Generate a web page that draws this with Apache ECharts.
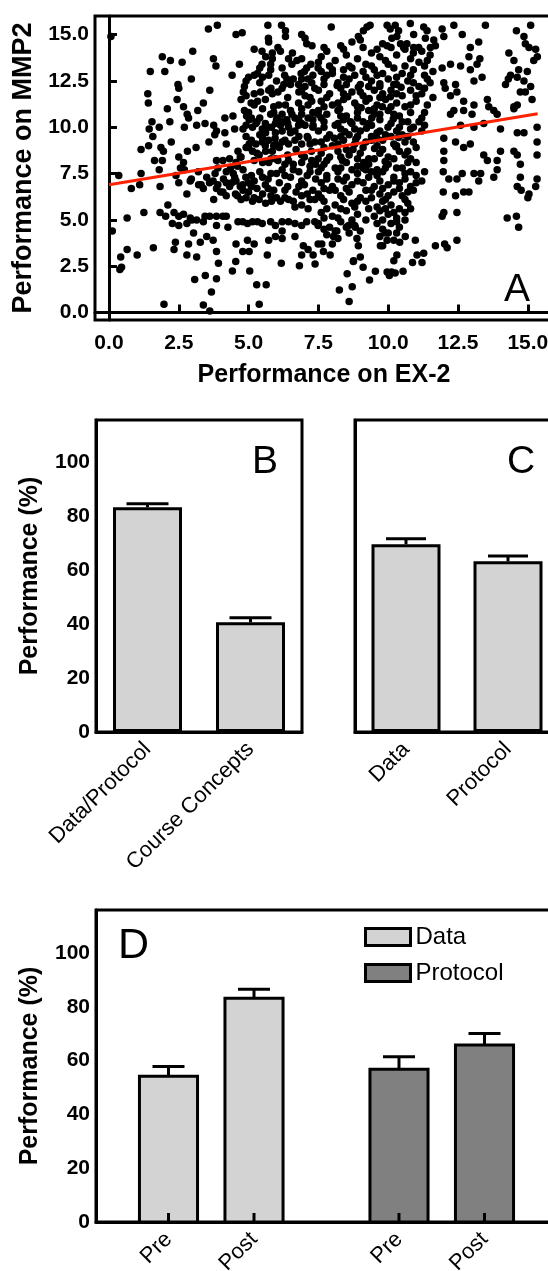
<!DOCTYPE html>
<html><head><meta charset="utf-8">
<script src="https://cdn.jsdelivr.net/npm/echarts@6/dist/echarts.min.js"></script>
<style>html,body{margin:0;padding:0;overflow:hidden;background:#fff;width:548px;height:1271px}#c{width:600px;height:1271px}</style>
</head><body><div id="c"></div><script>
// ---------- Panel A data (EX-2 vs MMP2) ----------
const scatterUpperLeft = [[0.07,14.9],[3.56,15.3],[3.88,15.5],[4.55,15.0],[4.77,15.1],[5.69,15.5],[6.18,15.5],
[1.91,13.8],[2.2,13.6],[2.62,13.5],[3.0,14.1],[3.74,13.7],[3.83,13.3],[1.48,13.0],[2.0,13.0],[2.95,12.6],[2.47,12.3],[2.5,12.1],[1.39,11.8],[1.41,11.3],[3.61,12.0],[2.44,11.5],[2.67,11.1],[2.09,11.0],[3.38,11.3],[3.18,10.9],[2.8,10.7],[2.85,10.5],
[1.54,10.3],[1.44,9.9],[1.8,10.0],[2.18,10.3],[2.7,10.0],[3.14,10.1],[3.44,10.2],[3.75,10.1],[3.85,9.8],
[1.57,9.5],[1.86,8.9],[1.95,8.7],[2.23,9.2],[1.15,8.8],[1.42,9.0],[1.63,8.2],[1.91,8.2],[2.5,8.4],[2.81,8.7],[3.12,8.9],[2.67,8.1],
[3.58,9.2],[3.79,9.6],[4.15,9.7],[4.2,9.1],[4.15,10.5],[4.44,10.6],[4.5,9.9],[4.41,12.8],[4.67,13.4],
[5.2,14.2],[5.48,14.1],[5.61,13.8],[5.85,14.0],[6.05,14.3],[6.14,14.1],[5.72,14.6],[5.71,14.8],
[6.32,15.2],[6.32,14.9],[6.9,15.0],[7.02,14.8],[7.08,14.5],[7.27,14.4],
[5.48,13.4],[5.4,13.2],[5.32,12.9],[5.2,12.8],[5.0,12.7],[4.91,12.5],[4.85,12.2],[4.81,11.9],[4.91,11.7],[5.79,13.4],[5.79,13.1],
[6.43,13.7],[6.57,14.0],[6.73,13.6],[6.9,13.7],[6.55,13.4],[5.72,12.8],[6.29,12.8],[6.37,12.6],[6.26,12.3],[6.2,12.1],
[6.79,12.3],[6.9,12.0],[7.02,12.2],[7.13,12.6],[7.26,12.4],[7.37,12.1],[7.02,11.7],[6.88,12.9],[7.08,13.2],[7.23,13.4],[7.49,13.2],
[5.43,11.9],[5.72,12.0],[5.85,11.8],[5.09,11.3],[5.2,11.2],[5.32,11.4],[6.08,11.2],[6.32,11.2],[6.79,11.3],[7.13,11.2],[7.26,11.4],
[4.73,11.5],[4.85,10.9],[4.93,10.6],[5.02,10.4],[4.91,10.1],[5.14,10.0],[5.26,10.2],[5.4,10.5]];
const scatterMidLeft = [[5.79,10.7],[5.9,10.8],[6.03,10.5],[6.2,10.7],[5.96,10.2],[5.82,10.0],[6.14,10.1],[6.37,10.4],[6.55,10.7],[6.66,10.5],[6.9,10.7],[7.13,10.5],[7.31,10.1],[7.49,10.7],[7.02,10.1],[6.79,10.1],[6.43,10.0],[6.66,9.8],[6.2,9.8],[5.96,9.7],[5.61,9.7],[5.49,9.9],
[4.91,9.5],[5.02,9.1],[5.26,9.1],[5.49,9.2],[5.72,9.3],[5.96,9.1],[6.2,9.2],[6.43,9.1],[6.66,9.3],[6.9,9.1],[7.13,9.4],[7.37,9.2],[4.91,8.9],[4.62,8.7],[4.73,8.4],[5.14,8.7],[5.38,8.5],[5.61,8.7],
[3.85,8.2],[4.08,8.2],[4.32,8.3],[4.55,8.1],[5.96,8.3],[6.43,8.2],[6.9,8.5],[7.26,8.2],[7.49,8.3],[5.72,8.1],
[4.8,9.9],[5.1,10.5],[5.4,9.6],[5.7,10.0],[5.95,9.4],[6.2,10.3],[6.5,9.7],[6.8,10.4],[7.1,9.5],[7.3,10.0],[5.0,8.9],[5.3,8.6],[5.6,9.0],[5.85,8.7],[6.1,8.9],[6.4,8.5],[6.7,8.8],[7.0,8.4],[7.25,8.7],[4.7,8.4],[5.5,8.1],[6.05,8.2],[6.6,8.0],[7.2,7.9],[5.2,11.8],[5.6,11.5],[6.05,11.9],[6.4,11.6],[6.8,11.9],[7.2,11.6],[5.4,12.4],[5.8,12.1],[6.6,12.6],[7.0,13.0],[6.2,13.2],[5.85,13.7],
[4.9,7.3],[5.2,7.1],[5.5,7.3],[5.8,7.5],[6.3,7.4],[6.6,7.7],[6.9,7.1],[7.2,7.6],[5.1,6.8],[5.7,6.7],[6.3,6.6],[6.8,6.8],[7.1,6.4],[5.2,6.2],[5.8,6.3],[6.3,6.2],[4.8,6.6],
[5.2,8.2],[5.8,8.3],[6.3,8.0],[6.9,8.1],[7.4,8.0],[5.1,9.3],[5.5,9.4],[5.9,9.0],[6.3,9.3],[6.8,9.5],[7.2,9.1],[5.3,10.3],[5.6,10.2],[6.0,10.4],[6.4,10.2],[6.9,10.2],[7.3,10.4],[5.0,10.8],[5.5,11.0],[5.9,11.1],[6.5,10.9],[6.9,11.0],[7.3,10.8],[5.5,12.7],[6.0,12.5],[6.5,12.3],[6.9,12.6],[7.3,12.8]];
const scatterUpperRight = [[7.96,15.4],[9.0,14.7],[8.93,14.9],[9.24,15.4],[9.35,15.5],[9.11,15.2],[9.96,15.5],[10.07,15.3],[10.25,15.5],[10.37,15.2],[10.31,14.9],[10.13,14.8],[9.96,14.4],[10.44,14.5],[10.55,14.3],[10.67,14.5],[10.79,15.6],[10.91,15.0],[10.91,14.3],[11.09,14.3],[11.27,15.4],[11.39,15.2],[11.33,14.8],[11.63,14.7],[11.69,14.4],[11.51,14.3],[11.93,15.3],[11.99,14.9],[12.35,15.5],[12.65,15.0],
[13.48,15.5],[12.94,14.3],[13.24,14.6],[12.89,13.8],[13.28,13.7],[13.18,13.4],[12.94,13.1],[12.59,13.3],[12.23,13.4],[11.93,13.2],
[14.59,15.2],[14.86,14.9],[15.1,15.5],[14.91,14.5],[15.04,14.3],[15.28,14.2],[15.34,13.8],[15.21,13.6],[14.32,14.0],[14.5,13.6],[14.67,13.1],[14.38,12.8],[14.62,12.7],[14.86,12.5],[14.98,13.0],[15.1,12.2],[14.91,11.9],[15.15,11.5],[14.73,11.9],[14.62,11.2],[14.5,11.0],[14.2,12.3],[14.3,12.6],
[11.99,12.4],[12.04,12.1],[12.23,11.7],[12.41,12.3],[12.46,11.9],[12.7,11.4],[13.07,12.5],[13.36,12.7],[13.07,11.2],[13.55,11.5],[13.6,11.1],[13.78,10.9],[13.9,10.7],[14.5,11.1],[13.0,10.7],[12.7,10.9],[12.35,10.9],[12.23,10.7],[12.59,10.1],[13.07,10.0],[13.42,10.2],[14.02,9.9],[14.62,9.7],[14.86,9.7],[15.33,10.0],[15.33,9.2],[14.5,8.7],[14.62,8.5],[14.02,8.7],[13.42,8.5],[13.55,8.2],[12.94,9.1],[12.7,8.9],[11.99,8.7],[11.99,8.2],[11.99,9.4],[12.41,9.2],[14.73,8.0],[15.33,8.5],[13.9,8.2]];
const scatterCoreUpper = [[8.3,14.4],[8.7,14.6],[9.8,14.5],[10.6,14.2],[7.8,14.1],[9.4,14.0],[11.2,14.1],[11.5,13.9],
[7.6,13.8],[8.1,13.6],[8.5,13.9],[8.9,13.7],[9.2,13.4],[9.7,13.8],[9.9,13.6],[10.3,13.9],[10.8,13.7],[11.1,13.5],[11.4,13.6],[7.5,13.5],[7.9,13.3],[8.6,13.3],
[7.6,13.0],[8.0,12.9],[8.4,13.1],[8.8,12.8],[9.1,13.0],[9.5,13.1],[9.8,12.9],[10.2,13.2],[10.5,12.9],[10.9,13.1],[11.3,12.8],[11.6,13.0],
[7.7,12.6],[8.2,12.4],[8.6,12.6],[9.0,12.3],[9.4,12.5],[9.7,12.2],[10.0,12.6],[10.3,12.3],[10.7,12.5],[11.1,12.2],[11.5,12.4],
[7.5,12.0],[7.9,11.8],[8.3,12.1],[8.7,11.9],[9.1,11.7],[9.5,12.0],[9.8,11.8],[10.1,12.0],[10.5,11.7],[10.8,12.0],[11.2,11.8],[11.6,11.6],
[7.6,11.4],[8.0,11.2],[8.4,11.5],[8.8,11.3],[9.2,11.4],[9.6,11.2],[9.9,11.5],[10.3,11.3],[10.6,11.1],[11.0,11.4],[11.4,11.2],
[7.5,10.9],[7.8,10.7],[8.2,10.9],[8.5,10.6],[8.9,10.8],[9.3,10.9],[9.7,10.7],[10.0,10.9],[10.4,10.6],[10.8,10.8],[11.2,10.5],
[7.7,10.3],[8.1,10.1],[8.4,10.4],[8.7,10.2],[9.1,10.3],[9.4,10.1],[9.7,10.4],[10.1,10.2],[10.5,10.3],[10.9,10.0],[11.3,10.1],
[7.5,9.8],[7.9,9.6],[8.3,9.9],[8.6,9.6],[9.0,9.8],[9.4,9.5],[9.7,9.8],[9.9,9.6],[10.3,9.8],[10.7,9.5],
[7.6,9.2],[8.0,9.0],[8.4,9.3],[8.8,9.1],[9.2,9.2],[9.6,9.0],[9.8,9.3],[10.2,9.1],[10.6,9.2],[11.0,8.9],
[7.6,8.6],[7.9,8.4],[8.2,8.7],[8.6,8.5],[9.0,8.6],[9.3,8.3],[9.7,8.6],[10.0,8.4],[10.4,8.7],[10.8,8.3],
[7.7,8.0],[8.1,7.8],[8.5,8.1],[8.9,7.9],[9.3,8.0],[9.6,7.7],[10.0,8.0],[10.3,7.8],[10.7,8.1],
[8.17,12.25],[8.55,11.65],[8.93,12.15],[9.32,11.55],[9.7,12.35],[10.08,11.65],[10.46,12.15],[8.26,11.0],[8.65,10.3],[9.03,11.05],[9.41,10.5],[9.79,11.1],[10.18,10.45],[8.07,9.4],[8.45,9.75],[8.84,9.35],[9.22,9.95],[9.6,9.4],[9.99,10.0],[10.37,9.45],[8.36,8.2],[8.74,8.8],[9.12,8.1],[9.51,8.85],[9.89,8.15],[10.27,8.95]];
const scatterCoreExtra = [[7.7,14.3],[8.4,14.2],[9.1,14.3],[9.6,14.2],[10.1,14.3],[10.9,14.0],[8.0,13.1],[8.7,13.2],[9.4,13.3],[10.0,13.4],[10.6,13.3],[11.3,13.3],
[7.8,12.8],[8.4,12.7],[9.2,12.7],[9.6,12.8],[10.3,12.7],[10.8,12.8],[11.4,12.6],
[7.7,12.3],[8.5,12.3],[9.3,12.2],[10.2,12.3],[10.9,12.4],[11.3,12.1],[7.8,11.6],[8.4,11.8],[9.0,11.9],[9.7,11.6],[10.3,11.8],[11.0,11.7],
[7.7,11.1],[8.2,11.3],[8.9,11.1],[9.5,11.0],[10.1,11.1],[10.8,11.2],[11.3,10.8],
[7.6,10.5],[8.3,10.6],[8.9,10.5],[9.5,10.7],[10.2,10.7],[10.7,10.3],[11.1,10.3],
[7.7,10.0],[8.2,10.2],[8.8,9.9],[9.3,10.2],[9.6,9.7],[10.4,10.0],[10.8,9.9],[11.2,9.8],
[7.8,9.4],[8.3,9.5],[8.9,9.5],[9.4,9.3],[10.1,9.5],[10.5,9.6],[10.9,9.2],
[7.7,8.9],[8.2,9.1],[8.5,8.8],[9.1,8.9],[9.8,8.8],[10.3,9.0],[10.7,8.7],
[7.8,8.2],[8.3,8.4],[8.9,8.3],[9.5,8.3],[10.2,8.3],[10.6,8.5],[11.0,8.1],
[7.6,7.8],[8.3,7.8],[8.7,7.7],[9.1,7.8],[9.4,7.6],[9.9,7.8],[10.5,7.8],[10.8,7.6],
[7.8,7.2],[8.2,7.2],[8.9,7.1],[9.3,7.3],[10.2,7.1],[10.6,7.2],[11.0,7.0],
[7.7,6.7],[8.1,6.6],[8.5,6.7],[9.2,6.6],[9.8,6.7],[10.4,6.7],[10.7,6.5],
[7.6,6.2],[8.4,6.1],[8.9,6.0],[9.4,6.2],[10.0,6.3],[10.6,6.1],
[7.8,5.6],[8.3,5.6],[8.8,5.7],[9.3,5.6],[9.9,5.6],[10.2,5.4],[10.8,5.6],
[7.7,5.1],[8.2,5.1],[8.7,5.0],[9.2,5.0],[9.8,5.0],[10.3,4.9],[10.6,5.0],
[7.7,4.5],[8.1,4.4],[8.5,4.6],[9.0,4.4],[9.9,4.3],[10.3,4.3]];
const scatterLowerLeft = [[0.35,7.4],[0.12,4.4],[0.8,6.7],[1.1,6.9],[1.15,7.5],[1.8,7.7],[1.83,6.8],[2.5,7.0],[2.56,7.8],[0.65,5.1],[1.25,5.4],[1.83,5.4],[2.11,5.8],[2.03,5.2],
[2.79,6.4],[2.91,7.1],[3.21,6.9],[3.38,6.7],[3.73,7.1],[3.85,6.7],[4.08,6.5],[4.32,6.8],[4.55,7.1],[4.79,6.9],
[3.75,6.1],[4.2,6.3],[4.53,6.4],[4.73,6.1],[4.91,6.2],[5.14,6.0],[5.38,6.1],[5.61,5.9],[5.82,6.0],[6.14,6.0],[6.43,6.1],[6.66,5.7],[6.9,5.8],[7.13,5.6],[7.37,6.1],
[2.33,5.4],[2.5,5.2],[2.67,5.3],[2.91,5.1],[3.14,5.0],[3.44,5.2],[3.61,5.2],[3.85,5.2],[4.08,5.2],[4.2,5.2],[2.27,4.8],[2.5,4.7],[2.79,4.8],[2.97,5.0],[3.38,4.9],[3.85,4.7],[4.26,4.6],[4.62,4.9],[4.79,4.9],[4.96,4.8],[5.14,4.9],[5.32,4.9],[5.49,4.8],[5.79,4.9],[5.96,4.7],[6.2,4.9],[6.43,4.9],[6.66,4.8],[6.9,4.7],[7.08,4.9],[7.37,4.9],[7.49,4.7],
[3.03,4.3],[3.5,4.1],[3.73,3.9],[3.27,3.8],[2.85,3.7],[2.38,3.8],[2.33,3.4],[2.79,3.1],[3.14,3.0],[3.85,3.3],[4.55,3.7],[4.79,3.3],[5.02,3.3],[4.96,3.9],[5.2,3.7],[5.72,3.9],[5.96,4.1],[6.2,4.0],[6.66,4.1],[6.96,3.6],[7.13,3.4],[6.9,3.1],[7.31,3.1],[7.49,3.7],[5.67,3.1],[1.59,3.5],[1.01,3.1],[0.65,3.4],[0.42,3.0],[6.2,4.4],
[4.2,7.6],[4.5,7.3],[4.8,7.7],[5.1,7.4],[5.4,7.6],[5.7,7.2],[6.0,7.5],[6.2,7.7],[6.5,7.3],[6.8,7.6],[7.1,7.4],[7.4,7.2],[4.4,7.0],[4.7,6.8],[5.0,7.0],[5.3,6.7],[5.6,6.9],[5.9,6.6],[6.1,7.0],[6.4,6.8],[6.7,6.5],[7.0,6.9],[7.3,6.6],[4.6,6.3],[5.0,6.5],[5.5,6.4],[6.0,6.2],[6.6,6.0],[6.9,6.3],[7.2,6.1],
[3.8,7.5],[4.1,7.2],[4.35,7.8],[3.5,7.3],[3.9,6.9],[3.2,7.6],[2.95,7.2],[2.7,7.7],[2.4,7.4],[3.9,7.8],[4.2,7.0],[4.45,7.5],[4.6,7.9],[3.6,7.0],[4.0,6.5],[3.3,6.9]];
const scatterLowerRight = [[11.97,7.6],[12.17,7.2],[12.46,7.2],[12.65,7.5],[13.07,7.5],[13.31,7.5],[13.24,7.1],[12.7,6.5],[12.89,6.5],[11.97,6.5],[12.41,6.3],[11.99,5.4],[11.93,5.2],[12.46,5.4],[13.9,7.7],[13.78,7.3],[14.73,7.3],[14.62,6.8],[14.76,6.6],[15.04,6.4],[15.0,6.2],[15.33,7.2],[15.28,6.8],[14.26,5.1],[14.59,5.2],[14.67,4.6],[11.69,3.6],[12.02,3.7],[12.11,3.5],[12.46,3.9],[10.97,3.9],[11.03,3.1],[11.27,3.2],[9.0,3.0],[8.93,3.6],[8.88,4.0],[8.58,4.7],[8.82,4.6],[8.16,4.4],[8.04,4.1],[7.62,3.7],[7.68,3.3],[7.92,3.1],[10.31,3.1],[10.2,2.8],[10.61,4.1],[9.72,3.6],[9.96,3.9],[10.41,3.8],[8.76,2.8],
[7.5,7.6],[7.8,7.4],[8.2,7.6],[8.5,7.3],[8.9,7.5],[9.2,7.7],[9.6,7.4],[9.8,7.6],[10.2,7.3],[10.6,7.5],[11.0,7.4],[11.3,7.6],
[7.6,7.0],[8.0,6.8],[8.4,7.1],[8.7,6.9],[9.1,7.0],[9.5,6.8],[9.7,7.1],[10.0,6.9],[10.4,7.0],[10.8,6.8],[11.2,7.1],
[7.5,6.4],[7.9,6.6],[8.3,6.3],[8.6,6.5],[9.0,6.2],[9.4,6.6],[9.7,6.4],[9.9,6.1],[10.2,6.5],[10.5,6.3],[10.9,6.6],
[7.7,6.0],[8.1,5.8],[8.7,5.9],[9.2,6.0],[9.6,5.7],[9.8,6.0],[10.1,5.8],[10.4,5.6],[10.7,5.9],
[7.6,5.4],[8.0,5.2],[8.5,5.5],[8.9,5.3],[9.5,5.2],[9.7,5.5],[10.0,5.3],[10.3,5.1],[10.6,5.4],
[7.5,4.8],[7.9,4.6],[8.3,4.9],[8.8,4.7],[9.6,4.8],[9.8,4.5],[10.1,4.8],[10.4,4.6],
[7.8,4.2],[8.2,4.0],[8.6,4.3],[9.7,4.1],[10.0,4.3],[10.2,3.9],[8.0,3.7],[9.8,3.6]];
const scatterBottom = [[0.45,2.44],[0.39,2.32],[1.97,0.45],[3.07,1.78],[3.45,2.0],[3.85,1.82],[3.67,1.11],[3.38,0.41],[3.61,0.08],[3.92,2.66],[4.42,2.25],[4.54,2.76],[5.04,2.25],[5.29,1.5],[5.63,1.5],[5.38,0.45],[6.17,2.66],[6.82,2.53],[7.38,2.62],[8.25,1.22],[8.53,2.1],[8.71,1.39],[8.6,0.6],[9.1,2.44],[9.33,1.76],[9.54,2.23],[9.96,2.19],[10.04,2.0],[10.12,2.19],[10.25,2.13],[10.53,2.23],[10.87,2.7],[11.21,2.7],[8.75,2.76]];
const fitLine = [[0, 6.9], [15.35, 10.73]];
const ticksA = [0, 2.5, 5, 7.5, 10, 12.5, 15];

// ---------- Panels B, C ----------
const catsB = ['Data/Protocol', 'Course Concepts'];
const meansB = [83.2, 40.6];
const errTopB = [84.5, 42.3];
const catsC = ['Data', 'Protocol'];
const meansC = [69.5, 63.2];
const errTopC = [71.5, 65.2];
const ticksPct = [0, 20, 40, 60, 80, 100];

// ---------- Panel D ----------
const groupsD = ['Data', 'Protocol'];
const phasesD = ['Pre', 'Post'];
const meansDData = [54.2, 83.2];
const errTopDData = [57.8, 86.5];
const meansDProtocol = [56.8, 65.8];
const errTopDProtocol = [61.4, 70.1];

const FF = '"Liberation Sans", Arial, sans-serif';
const scatterAll = [].concat(scatterUpperLeft, scatterMidLeft, scatterUpperRight, scatterCoreUpper, scatterCoreExtra, scatterLowerLeft, scatterLowerRight, scatterBottom);

const axLine = { lineStyle: { color: '#000', width: 3 } };
const tickIn = (vals) => ({ inside: true, length: 8, lineStyle: { color: '#000', width: 3 }, customValues: vals });
const boldLbl = { fontFamily: FF, fontWeight: 'bold', fontSize: 21, color: '#000' };
const nameStyle = (s) => ({ fontFamily: FF, fontWeight: 'bold', fontSize: s, color: '#000' });

function errRender(capW) {
  return function (params, api) {
    const c = api.value(0);
    const top = api.coord([c, api.value(1)]);
    const et = api.coord([c, api.value(2)]);
    return { type: 'group', children: [
      { type: 'line', shape: { x1: top[0], y1: top[1], x2: top[0], y2: et[1] }, style: { stroke: '#000', lineWidth: 3 } },
      { type: 'line', shape: { x1: top[0] - capW / 2, y1: et[1], x2: top[0] + capW / 2, y2: et[1] }, style: { stroke: '#000', lineWidth: 3 } }
    ]};
  };
}
function dRender(params, api) {
  const g = api.value(0), v = api.value(1), e = api.value(2), p = api.value(3);
  const band = api.size([1, 0])[0];
  const base = api.coord([g, 0]);
  const top = api.coord([g, v]);
  const et = api.coord([g, e]);
  const cx = base[0] + (p - 0.5) * band * 0.371;
  const bw = band * 0.252;
  const col = api.visual('color');
  return { type: 'group', children: [
    { type: 'rect', shape: { x: cx - bw / 2, y: top[1], width: bw, height: base[1] - top[1] }, style: { fill: col, stroke: '#000', lineWidth: 3 } },
    { type: 'line', shape: { x1: cx, y1: top[1], x2: cx, y2: et[1] }, style: { stroke: '#000', lineWidth: 3 } },
    { type: 'line', shape: { x1: cx - 16, y1: et[1], x2: cx + 16, y2: et[1] }, style: { stroke: '#000', lineWidth: 3 } },
    { type: 'line', shape: { x1: cx, y1: base[1], x2: cx, y2: base[1] - 9 }, style: { stroke: '#000', lineWidth: 3 } },
    { type: 'text', x: cx, y: base[1] + 14, rotation: Math.PI / 4,
      style: { text: phasesD[p], fontSize: 22, fontFamily: FF, fill: '#000', align: 'right', verticalAlign: 'middle' } }
  ]};
}

const catAxis = (gi, data) => ({
  type: 'category', gridIndex: gi, data: data, z: 5,
  axisLine: axLine,
  axisTick: { alignWithLabel: true, inside: true, length: 9, lineStyle: { color: '#000', width: 3 } },
  axisLabel: { rotate: 45, interval: 0, margin: 14, fontFamily: FF, fontSize: 22, color: '#000' }
});
const pctAxis = (gi, max, showLbl, name) => ({
  type: 'value', gridIndex: gi, min: 0, max: max, z: 5,
  axisLine: { show: true, lineStyle: { color: '#000', width: 3 } },
  axisTick: tickIn(ticksPct),
  axisLabel: Object.assign({ show: showLbl, customValues: ticksPct, margin: 6 }, boldLbl),
  splitLine: { show: false },
  name: name, nameLocation: 'middle', nameGap: 53, nameTextStyle: nameStyle(25)
});
const gridBox = { show: true, borderColor: '#000', borderWidth: 3, backgroundColor: 'transparent' };

const option = {
  animation: false,
  backgroundColor: '#fff',
  grid: [
    Object.assign({ left: 95, top: 16, width: 458, height: 304 }, gridBox),
    Object.assign({ left: 96, top: 420, width: 206, height: 312 }, gridBox),
    Object.assign({ left: 355, top: 420, width: 204, height: 312 }, gridBox),
    Object.assign({ left: 96, top: 910, width: 461, height: 312 }, gridBox)
  ],
  xAxis: [
    { type: 'value', gridIndex: 0, min: -0.5, max: 15.9,
      axisLine: axLine, axisTick: tickIn(ticksA),
      axisLabel: Object.assign({ customValues: ticksA, margin: 13, formatter: v => v.toFixed(1) }, boldLbl),
      splitLine: { show: false },
      name: 'Performance on EX-2', nameLocation: 'middle', nameGap: 43, nameTextStyle: nameStyle(25) },
    catAxis(1, catsB),
    catAxis(2, catsC),
    { type: 'category', gridIndex: 3, data: groupsD, axisLine: axLine, axisTick: { show: false }, axisLabel: { show: false } }
  ],
  yAxis: [
    { type: 'value', gridIndex: 0, min: -0.4, max: 16,
      axisLine: { show: true, lineStyle: { color: '#000', width: 3 } }, axisTick: tickIn(ticksA),
      axisLabel: Object.assign({ customValues: ticksA, margin: 6, formatter: v => v.toFixed(1) }, boldLbl),
      splitLine: { show: false },
      name: 'Performance on MMP2', nameLocation: 'middle', nameGap: 57, nameTextStyle: nameStyle(27) },
    pctAxis(1, 115.5, true, 'Performance (%)'),
    pctAxis(2, 115.5, false, ''),
    pctAxis(3, 116, true, 'Performance (%)')
  ],
  legend: {
    data: [{ name: 'Data', itemStyle: { color: '#d3d3d3' } }, { name: 'Protocol', itemStyle: { color: '#808080' } }],
    orient: 'vertical', left: 364, top: 925, padding: 0, itemWidth: 45, itemHeight: 17, itemGap: 12, icon: 'rect',
    selectedMode: false,
    itemStyle: { borderColor: '#000', borderWidth: 3 },
    textStyle: { fontFamily: FF, fontSize: 24, color: '#000' }
  },
  series: [
    { type: 'scatter', xAxisIndex: 0, yAxisIndex: 0, data: scatterAll, symbolSize: 7.5, itemStyle: { color: '#000', opacity: 1 }, z: 2 },
    { type: 'line', xAxisIndex: 0, yAxisIndex: 0, data: fitLine, symbol: 'none', lineStyle: { color: '#ff2200', width: 3 }, z: 3 },
    { type: 'bar', xAxisIndex: 1, yAxisIndex: 1, data: meansB, barWidth: 69, itemStyle: { color: '#d3d3d3', borderColor: '#000', borderWidth: 3 } },
    { type: 'custom', xAxisIndex: 1, yAxisIndex: 1, renderItem: errRender(42), z: 3,
      data: meansB.map((m, i) => [i, m, errTopB[i]]), encode: { x: 0, y: [1, 2] } },
    { type: 'bar', xAxisIndex: 2, yAxisIndex: 2, data: meansC, barWidth: 69, itemStyle: { color: '#d3d3d3', borderColor: '#000', borderWidth: 3 } },
    { type: 'custom', xAxisIndex: 2, yAxisIndex: 2, renderItem: errRender(40), z: 3,
      data: meansC.map((m, i) => [i, m, errTopC[i]]), encode: { x: 0, y: [1, 2] } },
    { type: 'custom', name: 'Data', xAxisIndex: 3, yAxisIndex: 3, renderItem: dRender, itemStyle: { color: '#d3d3d3' }, z: 3,
      data: meansDData.map((m, i) => [0, m, errTopDData[i], i]), encode: { x: 0, y: [1, 2] } },
    { type: 'custom', name: 'Protocol', xAxisIndex: 3, yAxisIndex: 3, renderItem: dRender, itemStyle: { color: '#808080' }, z: 3,
      data: meansDProtocol.map((m, i) => [1, m, errTopDProtocol[i], i]), encode: { x: 0, y: [1, 2] } }
  ],
  graphic: [
    { type: 'text', left: 504, top: 271, style: { text: 'A', fontFamily: FF, fontSize: 39, fill: '#000' } },
    { type: 'text', left: 252, top: 443, style: { text: 'B', fontFamily: FF, fontSize: 39, fill: '#000' } },
    { type: 'text', left: 507, top: 443, style: { text: 'C', fontFamily: FF, fontSize: 39, fill: '#000' } },
    { type: 'text', left: 118, top: 925, style: { text: 'D', fontFamily: FF, fontSize: 43, fill: '#000' } }
  ]
};
const chart = echarts.init(document.getElementById('c'), null, { renderer: 'canvas' });
chart.setOption(option);
</script></body></html>
